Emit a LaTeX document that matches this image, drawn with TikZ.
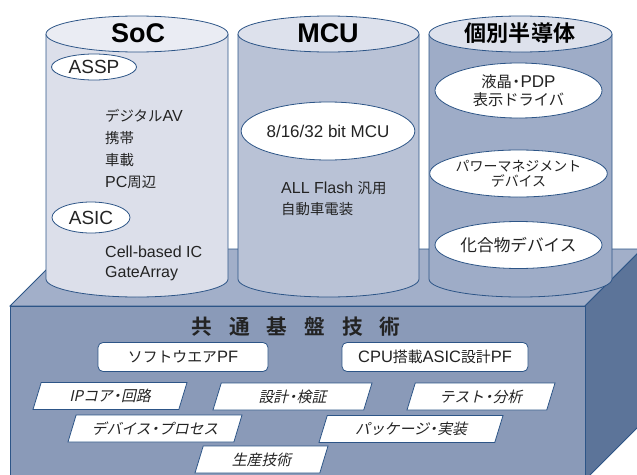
\documentclass[tikz,border=0pt]{standalone}
\usepackage{fontspec}
\setmainfont{Liberation Sans}
\newfontfamily\jp{Noto Sans CJK JP}[Scale=0.9, BoldFont={Noto Sans CJK JP Bold}]
\newfontfamily\jpit{Noto Sans CJK JP}[Scale=0.9, FakeSlant=0.22]
\newcommand\J[1]{{\jp #1}}
\newcommand\dt{\kern-0.22em・\kern-0.22em}
\newcommand\fs[1]{\fontsize{#1}{#1}\selectfont}
\usetikzlibrary{shapes.geometric}
\definecolor{edge}{RGB}{45,85,135}
\definecolor{frontc}{RGB}{138,154,184}
\definecolor{topc}{RGB}{162,175,201}
\definecolor{sidec}{RGB}{92,116,153}
\definecolor{socbody}{RGB}{220,223,234}
\definecolor{soctop}{RGB}{234,236,243}
\definecolor{mcubody}{RGB}{185,194,214}
\definecolor{mcutop}{RGB}{221,225,236}
\definecolor{disbody}{RGB}{158,172,199}
\definecolor{distop}{RGB}{221,225,236}
\definecolor{txt}{RGB}{35,35,35}
\tikzset{
  outl/.style={draw=edge, line width=0.8pt},
  inell/.style={ellipse, draw=edge, fill=white, line width=0.8pt, inner sep=0pt, align=center, text=txt},
  pfbox/.style={draw=edge, fill=white, rounded corners=5pt, line width=0.8pt, inner sep=0pt, minimum height=29pt, text=txt, font=\fs{16.5}},
  para/.style={trapezium, trapezium left angle=59, trapezium right angle=121, trapezium stretches body, draw=edge, fill=white, line width=0.8pt, inner sep=0pt, minimum height=27pt, text=txt, font=\jpit\fs{16.5}},
  lbl/.style={anchor=base west, inner sep=0pt, text=txt, font=\fs{16}},
  ttl/.style={inner sep=0pt, text=black, font=\bfseries\fs{27}},
}
% cylinder: centre x, radius x, body colour, top colour
\newcommand\drawcyl[4]{%
  \fill[#3] ({#1-#2},34) -- ({#1-#2},279) arc[start angle=180, end angle=0, x radius=#2, y radius=18] -- ({#1+#2},34) -- cycle;
  \draw[outl] ({#1-#2},34) -- ({#1-#2},279) arc[start angle=180, end angle=0, x radius=#2, y radius=18] -- ({#1+#2},34);
  \filldraw[outl, fill=#4] (#1,34) ellipse [x radius=#2, y radius=18];
}
\begin{document}
\begin{tikzpicture}[x=1pt, y=-1pt]
\useasboundingbox (0,0) rectangle (637,474);
\clip (0,0) rectangle (637,474);
% base block
\coordinate (FTL) at (10,306);
\coordinate (FTR) at (585,306);
\coordinate (FBR) at (585,480);
\coordinate (FBL) at (10,480);
\coordinate (BTL) at (67,249);
\coordinate (BTR) at (642,249);
\coordinate (BBR) at (642,423);
\filldraw[outl, fill=topc] (FTL) -- (BTL) -- (BTR) -- (FTR) -- cycle;
\filldraw[outl, fill=sidec] (FTR) -- (BTR) -- (BBR) -- (FBR) -- cycle;
\filldraw[outl, fill=frontc] (FTL) rectangle (FBR);
% cylinders
\drawcyl{137}{91}{socbody}{soctop}
\drawcyl{328.5}{90.5}{mcubody}{mcutop}
\drawcyl{520.5}{91.5}{disbody}{distop}
% titles
\node[ttl] (soct) at (138,33) {SoC};
\node[ttl] (mcut) at (328,33) {MCU};
\node[ttl, font=\jp\bfseries\fs{24.5}] (dist) at (520,33) {個別半導体};
% SoC column
\node[inell, minimum width=85pt, minimum height=26pt, font=\fs{19}] (assp) at (94,67) {ASSP};
\node[lbl] (dav) at (105,121) {\J{デジタル}AV};
\node[lbl] (keitai) at (105,143) {\J{携帯}};
\node[lbl] (shasai) at (105,165) {\J{車載}};
\node[lbl] (pc) at (105,187) {PC\J{周辺}};
\node[inell, minimum width=78pt, minimum height=31pt, font=\fs{19}] (asic) at (91,217.5) {ASIC};
\node[lbl] (cell) at (105,257) {Cell-based IC};
\node[lbl] (gate) at (105,277) {GateArray};
% MCU column
\node[inell, minimum width=161pt, minimum height=58pt, font=\fs{17}] (mcu) at (328,131) {8/16/32 bit MCU};
\node[lbl] (flash) at (281,193) {ALL Flash \J{汎用}};
\node[lbl] (car) at (281,214) {\J{自動車電装}};
% discrete column
\node[inell, minimum width=167pt, minimum height=55pt, font=\fs{17}] (lcd) at (518.5,90.5) {\J{液晶\dt}PDP\\[1pt]\J{表示ドライバ}};
\node[inell, minimum width=167pt, minimum height=47pt, font=\jp\fs{15.5}] (pwr) at (518.5,173.5) {パワーマネジメント\\デバイス};
\node[inell, minimum width=167pt, minimum height=47pt, font=\jp\fs{18.5}] (comp) at (518.5,245) {化合物デバイス};
% common base technologies
\node[inner sep=0pt, text=txt, font=\jp\bfseries\fs{23}] (kiban) at (296,327) {共\hspace{17pt}通\hspace{17pt}基\hspace{17pt}盤\hspace{17pt}技\hspace{17pt}術};
\node[pfbox, minimum width=170pt] (swpf) at (183,357) {\J{ソフトウエア}PF};
\node[pfbox, minimum width=186pt] (cpupf) at (435,357) {CPU\J{搭載}ASIC\J{設計}PF};
\node[para, minimum width=154pt] (ipc) at (110,396) {IPコア\dt 回路};
\node[para, minimum width=159pt] (sekkei) at (292.5,396.5) {設計\dt 検証};
\node[para, minimum width=148pt] (test) at (481,396.5) {テスト\dt 分析};
\node[para, minimum width=174pt] (dev) at (155,428.5) {デバイス\dt プロセス};
\node[para, minimum width=184pt] (pkg) at (411,429) {パッケージ\dt 実装};
\node[para, minimum width=133pt] (prod) at (261.5,459.5) {生産技術};
\end{tikzpicture}
\end{document}
